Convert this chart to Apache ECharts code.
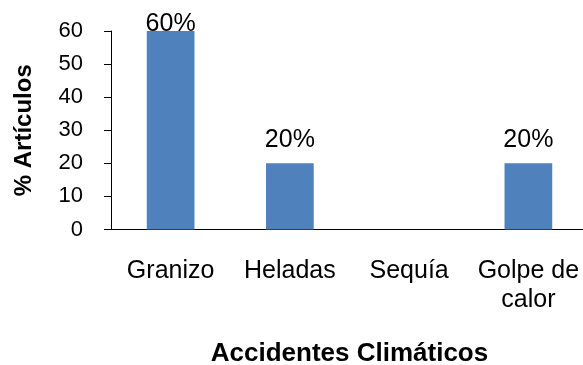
<!DOCTYPE html>
<html>
<head>
<meta charset="utf-8">
<script src="https://cdn.jsdelivr.net/npm/echarts@6/dist/echarts.min.js"></script>
<style>
  html, body { margin: 0; padding: 0; background: #fff; }
  #chart { width: 583px; height: 365px; }
</style>
</head>
<body>
<div id="chart"></div>
<script>
// Share of articles per climatic event
const categories = ['Granizo', 'Heladas', 'Sequía', 'Golpe de\ncalor'];
const values = [60, 20, 0, 20];
const valueLabels = ['60%', '20%', '', '20%'];
const yTicks = [0, 10, 20, 30, 40, 50, 60];

const FONT = '"Liberation Sans", Arial, sans-serif';

const chart = echarts.init(document.getElementById('chart'));

const barData = values.map(function (v, i) {
  const item = { value: v };
  if (!valueLabels[i]) {
    item.label = { show: false };
  } else if (v === Math.max.apply(null, values)) {
    // top bar: label sits over the bar's upper edge
    item.label = { distance: -6 };
  }
  return item;
});

chart.setOption({
  animation: false,
  backgroundColor: '#ffffff',
  grid: {
    left: 111, top: 31, width: 477, height: 198.5,
    containLabel: false, outerBoundsMode: 'none'
  },
  xAxis: {
    type: 'category',
    data: categories,
    name: 'Accidentes Climáticos',
    nameLocation: 'middle',
    nameGap: 111,
    nameTextStyle: { fontFamily: FONT, fontSize: 26, fontWeight: 'bold', color: '#000' },
    axisLine: { show: true, lineStyle: { color: '#000', width: 1 } },
    axisTick: { show: false },
    axisLabel: {
      fontFamily: FONT, fontSize: 25, color: '#000', margin: 27,
      lineHeight: 29, interval: 0
    },
    splitLine: { show: false }
  },
  yAxis: {
    type: 'value',
    min: yTicks[0],
    max: yTicks[yTicks.length - 1],
    interval: yTicks[1] - yTicks[0],
    name: '% Artículos',
    nameLocation: 'middle',
    nameGap: 75,
    nameTextStyle: { fontFamily: FONT, fontSize: 24, fontWeight: 'bold', color: '#000' },
    axisLine: { show: true, lineStyle: { color: '#000', width: 1 } },
    axisTick: { show: true, length: 7, lineStyle: { color: '#000' } },
    axisLabel: { fontFamily: FONT, fontSize: 22, color: '#000', margin: 28 },
    splitLine: { show: false }
  },
  series: [{
    type: 'bar',
    data: barData,
    barWidth: '40%',
    itemStyle: { color: '#4F81BD' },
    label: {
      show: true,
      position: 'top',
      distance: 11,
      fontFamily: FONT,
      fontSize: 25,
      color: '#000',
      formatter: function (p) { return valueLabels[p.dataIndex]; }
    }
  }]
});
</script>
</body>
</html>
